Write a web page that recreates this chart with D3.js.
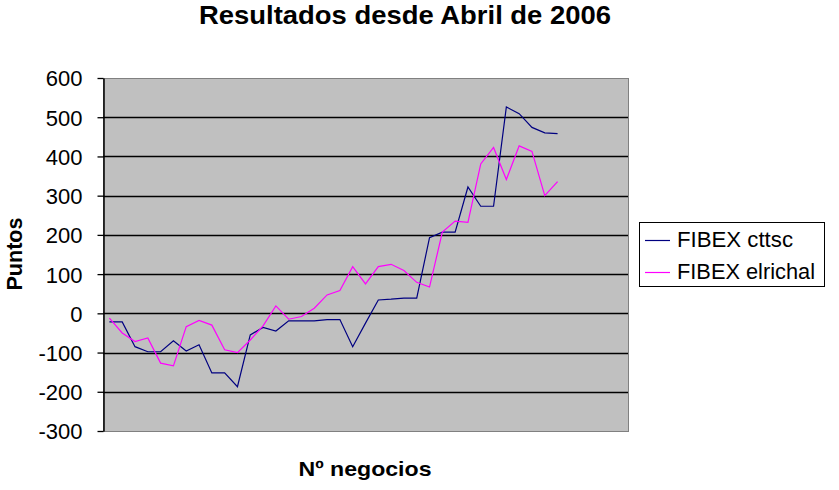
<!DOCTYPE html>
<html><head><meta charset="utf-8">
<script src="https://cdn.jsdelivr.net/npm/d3@7"></script>
<style>body{margin:0;background:#fff}svg{display:block;font-family:"Liberation Sans",Arial,sans-serif}</style>
</head><body><svg id="c" width="839" height="490"></svg>
<script>
const title = "Resultados desde Abril de 2006";
const xTitle = "Nº negocios";
const yTitle = "Puntos";
const categories = [1,2,3,4,5,6,7,8,9,10,11,12,13,14,15,16,17,18,19,20,21,22,23,24,25,26,27,28,29,30,31,32,33,34,35,36,37,38,39,40,41];
const yTicks = [-300,-200,-100,0,100,200,300,400,500,600];
const seriesNames = ["FIBEX cttsc","FIBEX elrichal"];
const seriesColors = ["#000080","#FF00FF"];
const cttsc = [-22,-22,-85,-98,-98,-70,-96,-80,-152,-152,-187,-55,-36,-45,-19,-19,-19,-16,-16,-85,-25,34,36,39,39,193,207,207,322,273,273,526,509,474,460,458];
const elrichal = [-12,-50,-72,-63,-127,-134,-34,-18,-30,-93,-100,-68,-32,19,-15,-8,13,47,58,119,75,119,125,109,79,67,207,235,232,381,423,341,427,413,300,336];
const series = [cttsc, elrichal];

const svg = d3.select("#c");
const L=103, R=628, T=78, B=431;
const x = d3.scaleBand().domain(categories).range([L,R]);
const y = d3.scaleLinear().domain([-300,600]).range([B,T]);

svg.append("rect").attr("x",L).attr("y",T).attr("width",R-L).attr("height",B-T)
  .attr("fill","#C0C0C0").attr("stroke","#808080").attr("stroke-width",1).attr("shape-rendering","crispEdges");

// gridlines
svg.append("g").selectAll("line").data(yTicks.filter(d=>d>-300&&d<600)).join("line")
  .attr("x1",L).attr("x2",R).attr("y1",d=>Math.round(y(d))+0.5).attr("y2",d=>Math.round(y(d))+0.5)
  .attr("stroke","#000").attr("stroke-width",1.3);

// y axis
const ya = svg.append("g").attr("transform",`translate(${L+0.5},0)`)
  .call(d3.axisLeft(y).tickValues(yTicks).tickFormat(d=>String(d)).tickSize(6).tickSizeOuter(0).tickPadding(15));
ya.select(".domain").attr("stroke","#000").attr("stroke-width",1.5);
ya.selectAll(".tick line").attr("stroke","#000").attr("stroke-width",1.3);
ya.selectAll("text").attr("font-size","22px").attr("fill","#000").attr("dy","0.36em")
  .attr("font-family","Liberation Sans, Arial, sans-serif");

// lines
const line = d3.line().x((d,i)=>x(categories[i])+x.bandwidth()/2).y(d=>y(d));
series.forEach((s,k)=>{
  svg.append("path").datum(s).attr("d",line).attr("fill","none")
    .attr("stroke",seriesColors[k]).attr("stroke-width",1.2);
});

// titles
svg.append("text").attr("x",405).attr("y",23.5).attr("text-anchor","middle")
  .attr("font-size","25px").attr("font-weight","bold")
  .attr("textLength",412).attr("lengthAdjust","spacingAndGlyphs").text(title);
svg.append("text").attr("x",365).attr("y",476).attr("text-anchor","middle")
  .attr("font-size","21px").attr("font-weight","bold")
  .attr("textLength",133).attr("lengthAdjust","spacingAndGlyphs").text(xTitle);
svg.append("text").attr("transform","translate(22,254) rotate(-90)").attr("text-anchor","middle")
  .attr("font-size","22px").attr("font-weight","bold")
  .attr("textLength",73).attr("lengthAdjust","spacingAndGlyphs").text(yTitle);

// legend
const lg = svg.append("g");
lg.append("rect").attr("x",639.5).attr("y",222.5).attr("width",185).attr("height",64)
  .attr("fill","#fff").attr("stroke","#000").attr("stroke-width",1);
const legendW = [116,138];
seriesNames.forEach((n,k)=>{
  const yy = 240 + k*32;
  lg.append("line").attr("x1",645).attr("x2",670).attr("y1",yy+0.5).attr("y2",yy+0.5)
    .attr("stroke",seriesColors[k]).attr("stroke-width",1.2);
  lg.append("text").attr("x",677).attr("y",yy+7).attr("font-size","22px")
    .attr("textLength",legendW[k]).attr("lengthAdjust","spacingAndGlyphs").text(n);
});
</script></body></html>
